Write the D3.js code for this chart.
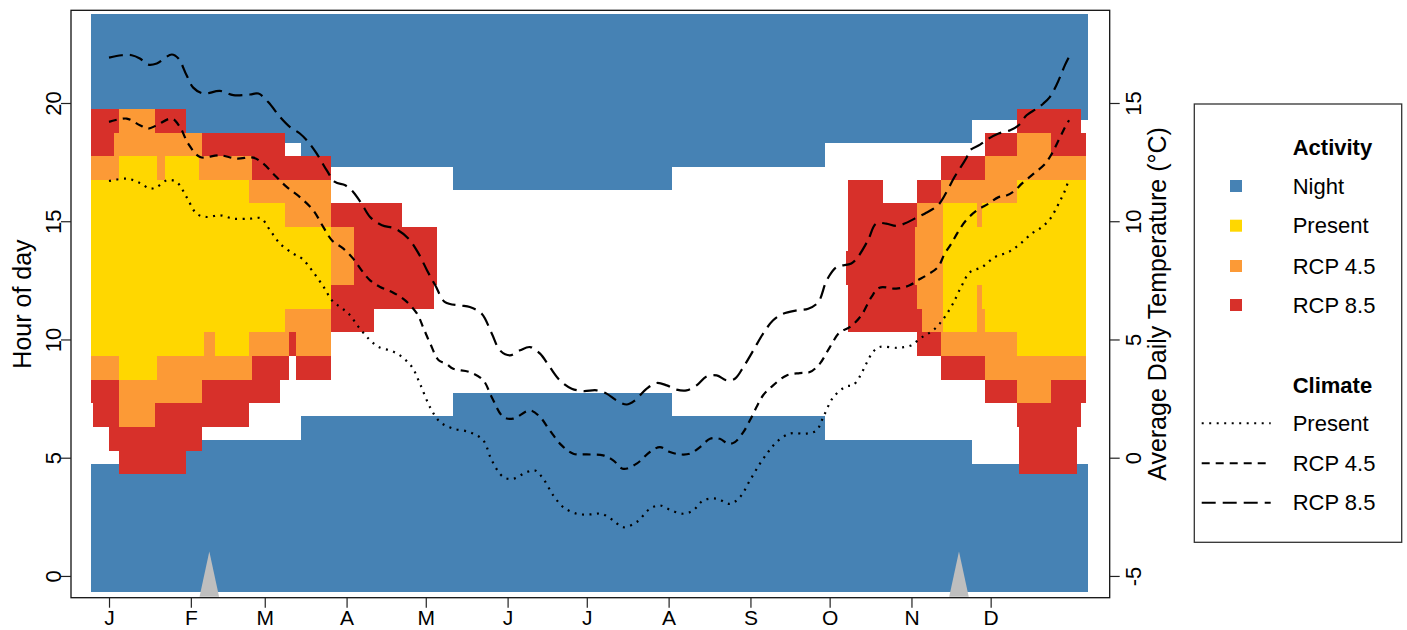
<!DOCTYPE html>
<html>
<head>
<meta charset="utf-8">
<script src="https://cdn.jsdelivr.net/npm/d3@7"></script>
<style>
  html, body { margin: 0; padding: 0; background: #fff; }
  svg text { font-family: "Liberation Sans", Arial, Helvetica, sans-serif; }
</style>
</head>
<body>
<svg id="chart" width="1407" height="630"></svg>
<script>
// ---------- data ----------
// month ticks (day of year, 0 = 1 January)
const monthStarts = [0, 31, 59, 90, 120, 151, 181, 212, 243, 273, 304, 334];
const monthLabels = ["J", "F", "M", "A", "M", "J", "J", "A", "S", "O", "N", "D"];
const hourTicks = [0, 5, 10, 15, 20];
const tempTicks = [-5, 0, 5, 10, 15];

// Night: day breakpoints, last night hour of the morning, first night hour of the evening
const nightBreaks = [-6.8, 29.2, 72.9, 130.2, 213.1, 271.2, 326.9, 370.9];
const nightMorningEnd = [4, 5, 6, 7, 6, 5, 4];
const nightEveningStart = [20, 19, 18, 17, 18, 19, 20];

// Activity windows: [first day, last day, first active hour, last active hour]
const activityRcp85 = [
  [-6.8, -5.9, 8, 19], [-5.9, 0.1, 7, 19], [0.1, 3.9, 6, 19], [3.9, 29.2, 5, 19],
  [29.2, 35.2, 6, 18], [35.2, 52.9, 7, 18], [52.9, 64.9, 8, 18], [64.9, 66.8, 9, 18],
  [66.8, 68.0, 9, 17], [68.0, 71.0, 10, 17], [71.0, 84.1, 9, 17], [84.1, 100.2, 11, 15],
  [100.2, 111.0, 12, 15], [111.0, 123.0, 12, 14], [123.0, 124.2, 13, 14],
  [279.3, 279.9, 13, 13], [279.9, 293.2, 11, 16], [293.2, 306.1, 11, 15], [306.1, 315.3, 10, 16],
  [315.3, 331.9, 9, 17], [331.9, 343.9, 8, 18], [343.9, 344.8, 7, 19], [344.8, 366.9, 5, 19],
  [366.9, 368.2, 7, 19], [368.2, 370.1, 8, 18]
];
const activityRcp45 = [
  [-6.8, 2.0, 9, 17], [2.0, 3.9, 9, 18], [3.9, 17.4, 7, 19], [17.4, 35.2, 8, 18],
  [35.2, 54.2, 9, 17], [54.2, 68.0, 10, 16], [68.0, 71.0, 11, 16], [71.0, 84.1, 10, 16],
  [84.1, 92.9, 13, 14],
  [305.5, 306.1, 13, 14], [306.1, 308.1, 12, 15], [308.1, 315.3, 11, 15], [315.3, 331.9, 10, 16],
  [331.9, 343.9, 9, 17], [343.9, 356.8, 8, 18], [356.8, 370.1, 9, 17]
];
const activityPresent = [
  [-6.8, 3.9, 10, 16], [3.9, 18.2, 9, 17], [18.2, 21.3, 10, 16], [21.3, 34.2, 10, 17],
  [34.2, 36.1, 10, 16], [36.1, 40.2, 11, 16], [40.2, 52.9, 10, 16], [52.9, 66.8, 11, 15],
  [66.8, 84.1, 12, 14],
  [316.0, 328.8, 11, 15], [328.8, 330.9, 13, 14], [330.9, 331.9, 12, 15], [331.9, 343.9, 11, 15],
  [343.9, 370.1, 10, 16]
];

// marked dates (day of year)
const markerDays = [38, 322];

// Average daily temperature (°C) by day of year
const presentDays = [0,6.7,11.7,15.5,18.1,21.9,25.6,29.4,33.2,37.0,42.0,47.1,53.4,57.6,61.0,64.8,69.8,73.1,76.9,81.3,84.5,87.6,90.8,94.6,98.4,102.2,107.2,111.0,114.8,117.8,121.6,125.4,130.4,136.7,141.8,145.0,149.4,153.1,158.2,161.4,164.5,168.3,172.1,177.2,182.2,186.6,191.0,194.8,199.9,204.9,208.7,212.5,217.5,221.3,225.1,230.2,235.2,239.0,242.8,246.6,249.7,252.9,257.9,264.3,268.0,270.6,274.4,279.4,281.8,284.3,286.9,289.4,291.9,298.9,303.9,307.1,309.6,312.1,314.7,316.6,319.7,322.8,326.2,330.7,335.7,340.8,345.2,349.6,353.4,356.6,359.1,361.0,362.2,363.3];
const presentTemp = [11.70,11.80,11.62,11.38,11.45,11.73,11.66,11.02,10.32,10.18,10.25,10.11,10.11,10.12,9.62,9.05,8.63,8.42,7.92,7.22,6.65,6.37,6.09,5.52,5.03,4.68,4.51,4.26,3.83,3.13,2.14,1.51,1.23,1.08,0.73,-0.11,-0.82,-0.89,-0.61,-0.54,-0.89,-1.59,-2.09,-2.37,-2.40,-2.37,-2.65,-2.94,-2.72,-2.16,-2.02,-2.20,-2.37,-2.23,-1.81,-1.73,-1.95,-1.67,-0.96,-0.25,0.24,0.66,1.02,1.02,1.15,1.72,2.56,3.02,3.06,3.41,3.98,4.47,4.68,4.65,4.75,5.03,5.20,5.38,5.67,5.95,6.51,7.22,7.85,8.06,8.49,8.70,9.05,9.48,9.75,10.11,10.60,11.02,11.31,11.66];

const rcp45Days = [0,6.7,11.7,14.9,18.1,23.8,26.9,30.0,34.5,42.0,48.4,54.7,58.4,62.2,67.3,72.3,77.4,81.2,84.5,88.8,92.5,95.7,98.9,102.7,107.2,112.2,116.7,119.2,121.7,124.9,127.7,130.4,136.7,141.8,145.0,149.4,153.1,159.5,163.3,167.0,171.5,175.9,180.9,187.2,191.0,194.8,199.9,204.9,208.7,212.5,216.3,220.1,223.9,227.7,231.4,234.6,237.1,240.3,242.8,245.3,247.8,251.6,256.7,261.7,265.5,269.3,273.1,276.9,280.6,285.0,288.8,291.9,298.2,303.3,306.4,309.6,314.0,316.6,319.1,321.6,324.7,328.8,333.2,337.0,340.2,343.3,345.8,350.3,354.7,357.2,359.1,361.0,362.2,363.7];
const rcp45Temp = [14.20,14.34,14.06,13.92,14.06,14.34,13.98,13.28,12.72,12.79,12.65,12.69,12.44,12.01,11.45,11.02,10.46,9.75,9.19,8.84,8.42,7.92,7.50,7.22,7.01,6.65,6.09,5.46,4.82,4.12,3.98,3.76,3.62,3.27,2.56,1.72,1.65,2.00,1.72,1.15,0.52,0.17,0.14,0.10,-0.11,-0.47,-0.25,0.24,0.45,0.24,0.14,0.17,0.45,0.80,0.80,0.59,0.66,1.08,1.58,2.14,2.64,3.06,3.48,3.58,3.62,3.98,4.68,5.31,5.52,6.02,6.79,7.19,7.15,7.29,7.50,7.71,8.06,8.63,9.05,9.54,10.04,10.46,10.74,11.02,11.10,11.31,11.59,12.01,12.44,12.86,13.28,13.71,13.98,14.27];

const rcp85Days = [0,4.8,8.6,11.7,14.9,18.1,23.8,26.3,29.4,31.9,35.7,42.0,47.1,53.4,56.6,60.3,64.8,68.6,72.3,75.5,78.7,82.5,85.6,89.5,92.5,95.7,98.9,103.4,108.4,113.5,117.3,120.5,123.6,127.3,133.0,136.7,141.2,145.0,148.1,151.9,155.7,159.5,163.3,167.0,170.8,175.3,179.7,184.7,188.5,192.3,196.1,199.2,203.7,207.5,211.3,215.0,218.8,222.6,226.4,230.2,234.0,237.1,240.3,244.1,247.8,251.6,255.4,260.5,264.9,268.7,271.9,275.6,281.2,283.7,287.5,290.6,294.4,298.2,301.4,305.2,309.0,314.0,316.6,320.3,324.7,326.2,330.0,333.2,337.0,341.4,344.6,347.6,351.4,353.9,356.4,358.9,360.8,362.1,363.7];
const rcp85Temp = [16.92,17.02,17.02,16.88,16.62,16.67,17.05,16.88,16.17,15.65,15.40,15.51,15.33,15.36,15.40,15.04,14.41,13.98,13.71,13.35,12.86,12.15,11.66,11.52,11.24,10.74,10.18,9.83,9.69,9.26,8.63,7.92,7.29,6.58,6.44,6.37,6.09,5.25,4.54,4.33,4.54,4.68,4.40,3.83,3.27,2.92,2.82,2.85,2.71,2.42,2.25,2.42,2.92,3.16,3.06,2.88,2.85,3.06,3.44,3.48,3.27,3.34,3.83,4.54,5.25,5.81,6.09,6.23,6.30,6.58,7.50,8.06,8.21,8.49,9.19,9.90,9.90,9.80,9.90,10.11,10.32,10.67,11.10,11.87,12.65,13.00,13.24,13.49,13.71,13.85,14.06,14.48,14.76,14.97,15.25,15.75,16.24,16.59,16.95];

// ---------- styles ----------
const COL_NIGHT = "#4682B4", COL_PRESENT = "#FFD700", COL_45 = "#FC9A36", COL_85 = "#D7302A";
const DASH_PRESENT = "2,5.5", DASH_45 = "8,6", DASH_85 = "14,7";
const TICK_FONT = 22, MONTH_FONT = 21, TITLE_FONT = 25, LEGEND_FONT = 22;

// ---------- scales ----------
const svg = d3.select("#chart");
const L = 71, R = 1109.7, T = 10.3, B = 597.7;
const x = d3.scaleLinear().domain([-14.4, 379.1]).range([L, R]);
const yHour = d3.scaleLinear().domain([-0.92, 23.92]).range([B, T]);
const yTemp = d3.scaleLinear().domain([-5.92, 18.92]).range([B, T]);

// A run of whole hours [a, b] is painted from a - 0.7 to b + 0.75
const PAD_BELOW = 0.7, PAD_ABOVE = 0.75;
function cellRect(sel, color) {
  sel.attr("x", d => x(d[0]))
     .attr("width", d => x(d[1]) - x(d[0]))
     .attr("y", d => yHour(d[3] + PAD_ABOVE))
     .attr("height", d => yHour(d[2] - PAD_BELOW) - yHour(d[3] + PAD_ABOVE))
     .attr("fill", color);
}

// ---------- heat map ----------
const heat = svg.append("g").attr("shape-rendering", "crispEdges");

const nightBlocks = [];
nightMorningEnd.forEach((e, i) => {
  nightBlocks.push([nightBreaks[i], nightBreaks[i + 1], 0, e]);
  nightBlocks.push([nightBreaks[i], nightBreaks[i + 1], nightEveningStart[i], 23]);
});
heat.append("g").selectAll("rect").data(nightBlocks).join("rect").call(cellRect, COL_NIGHT);
heat.append("g").selectAll("rect").data(activityRcp85).join("rect").call(cellRect, COL_85);
heat.append("g").selectAll("rect").data(activityRcp45).join("rect").call(cellRect, COL_45);
heat.append("g").selectAll("rect").data(activityPresent).join("rect").call(cellRect, COL_PRESENT);

// ---------- temperature lines ----------
const line = d3.line()
  .x(d => x(d[0]))
  .y(d => yTemp(d[1]))
  .curve(d3.curveCatmullRom.alpha(0.5));

const series = [
  { days: presentDays, temp: presentTemp, dash: DASH_PRESENT },
  { days: rcp45Days, temp: rcp45Temp, dash: DASH_45 },
  { days: rcp85Days, temp: rcp85Temp, dash: DASH_85 }
];
svg.append("g").selectAll("path").data(series).join("path")
  .attr("d", s => line(d3.zip(s.days, s.temp)))
  .attr("fill", "none")
  .attr("stroke", "#000")
  .attr("stroke-width", 2.2)
  .attr("stroke-dasharray", s => s.dash);

// ---------- date markers ----------
svg.append("g").selectAll("polygon").data(markerDays).join("polygon")
  .attr("points", d => [[x(d - 3.7), yHour(-0.88)], [x(d + 3.7), yHour(-0.88)], [x(d), yHour(1.03)]].join(" "))
  .attr("fill", "#BEBEBE");

// ---------- frame ----------
svg.append("rect")
  .attr("x", L).attr("y", T).attr("width", R - L).attr("height", B - T)
  .attr("fill", "none").attr("stroke", "#111").attr("stroke-width", 1.3);

// ---------- axes ----------
function styleAxis(g) {
  g.select(".domain").remove();
  g.attr("font-family", null).attr("font-size", TICK_FONT);
  g.selectAll(".tick line").attr("stroke", "#222").attr("stroke-width", 1.2);
  g.selectAll(".tick text").attr("fill", "#000");
}

svg.append("g")
  .attr("transform", `translate(0,${B})`)
  .call(d3.axisBottom(x).tickValues(monthStarts).tickFormat((d, i) => monthLabels[i]).tickSize(10).tickPadding(2))
  .call(styleAxis)
  .attr("font-size", MONTH_FONT);

svg.append("g")
  .attr("transform", `translate(${L},0)`)
  .call(d3.axisLeft(yHour).tickValues(hourTicks).tickFormat(d => String(d)).tickSize(10))
  .call(styleAxis)
  .call(g => g.selectAll(".tick text")
    .attr("x", 0).attr("dy", 0).attr("text-anchor", "middle")
    .attr("transform", "translate(-10.5,0) rotate(-90)"));

svg.append("g")
  .attr("transform", `translate(${R},0)`)
  .call(d3.axisRight(yTemp).tickValues(tempTicks).tickFormat(d => String(d)).tickSize(10))
  .call(styleAxis)
  .call(g => g.selectAll(".tick text")
    .attr("x", 0).attr("dy", 0).attr("text-anchor", "middle")
    .attr("transform", "translate(31,0) rotate(-90)"));

svg.append("text")
  .attr("transform", `translate(31,${(T + B) / 2}) rotate(-90)`)
  .attr("text-anchor", "middle").attr("font-size", TITLE_FONT)
  .text("Hour of day");

svg.append("text")
  .attr("transform", `translate(1166,${(T + B) / 2}) rotate(-90)`)
  .attr("text-anchor", "middle").attr("font-size", TITLE_FONT)
  .text("Average Daily Temperature (°C)");

// ---------- legend ----------
const legend = svg.append("g");
legend.append("rect")
  .attr("x", 1194.3).attr("y", 104).attr("width", 207.4).attr("height", 438.3)
  .attr("fill", "#fff").attr("stroke", "#333").attr("stroke-width", 1.3);

const textX = 1292.7;
const activityItems = [
  { label: "Night", color: COL_NIGHT, y: 186 },
  { label: "Present", color: COL_PRESENT, y: 225.7 },
  { label: "RCP 4.5", color: COL_45, y: 266 },
  { label: "RCP 8.5", color: COL_85, y: 305 }
];
const climateItems = [
  { label: "Present", dash: DASH_PRESENT, y: 423.3 },
  { label: "RCP 4.5", dash: DASH_45, y: 463.3 },
  { label: "RCP 8.5", dash: DASH_85, y: 502.7 }
];

legend.selectAll("text.head").data([["Activity", 147.3], ["Climate", 385]]).join("text")
  .attr("class", "head")
  .attr("x", textX).attr("y", d => d[1]).attr("dy", "0.35em")
  .attr("font-size", LEGEND_FONT).attr("font-weight", "bold")
  .text(d => d[0]);

legend.selectAll("rect.key").data(activityItems).join("rect")
  .attr("class", "key")
  .attr("x", 1230).attr("y", d => d.y - 6).attr("width", 12).attr("height", 12)
  .attr("fill", d => d.color);

legend.selectAll("line.key").data(climateItems).join("line")
  .attr("class", "key")
  .attr("x1", 1201.7).attr("x2", 1270.7).attr("y1", d => d.y).attr("y2", d => d.y)
  .attr("stroke", "#000").attr("stroke-width", 2).attr("stroke-dasharray", d => d.dash);

legend.selectAll("text.item").data(activityItems.concat(climateItems)).join("text")
  .attr("class", "item")
  .attr("x", textX).attr("y", d => d.y).attr("dy", "0.35em")
  .attr("font-size", LEGEND_FONT)
  .text(d => d.label);
</script>
</body>
</html>
